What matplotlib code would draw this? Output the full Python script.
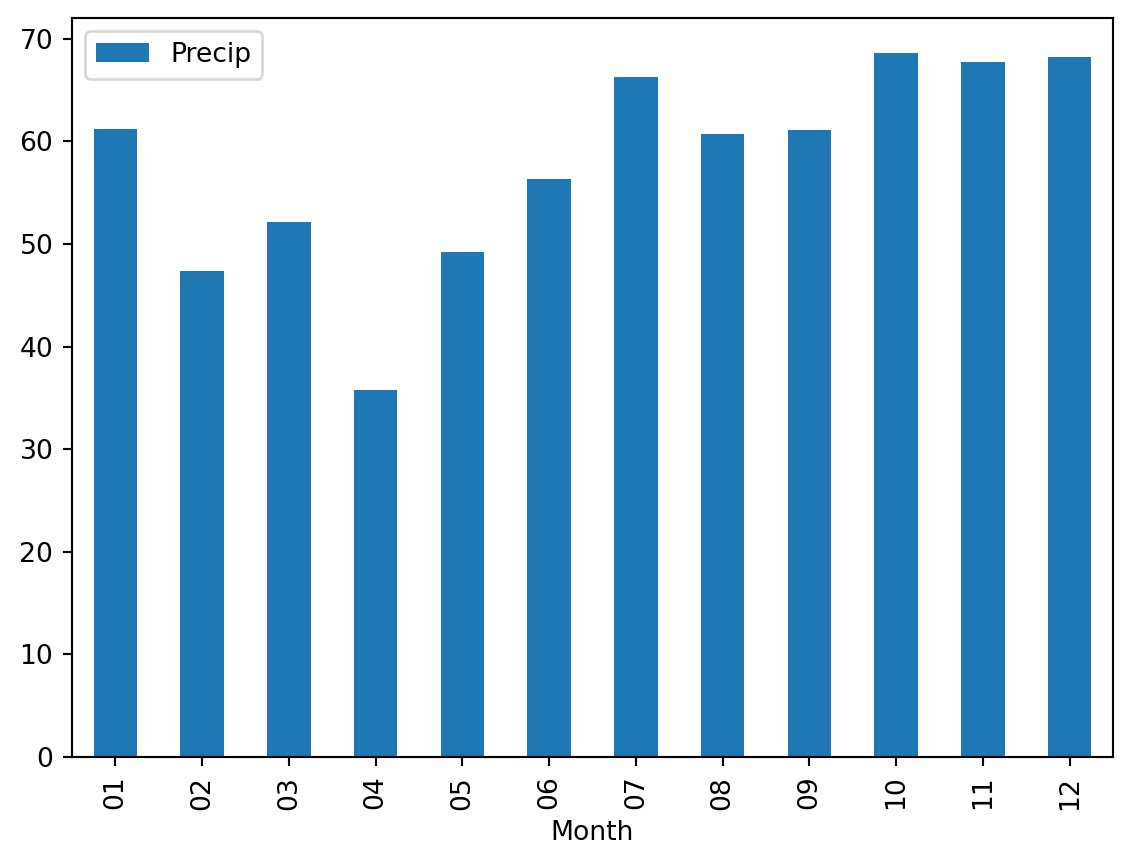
import matplotlib
matplotlib.use("Agg")
import matplotlib.pyplot as plt
import numpy as np

months = ["01", "02", "03", "04", "05", "06", "07", "08", "09", "10", "11", "12"]
precip = [61.2, 47.4, 52.1, 35.8, 49.2, 56.3, 66.3, 60.7, 61.1, 68.6, 67.7, 68.2]

DPI = 192
fig = plt.figure(figsize=(1132/DPI, 866/DPI), dpi=DPI)
W, H = 1132, 866
ax = fig.add_axes([72/W, 1-757/H, (1113-72)/W, (757-18)/H])

x = np.arange(len(months))
ax.bar(x, precip, width=0.5, color="#1f77b4", label="Precip")
ax.set_xlim(-0.5, len(months)-0.5)
ax.set_ylim(0, max(precip) * 1.05)
ax.set_xticks(x)
ax.set_xticklabels(months, rotation=90)
ax.set_xlabel("Month")
ax.legend(loc="upper left")

fig.savefig("out.png", dpi=DPI)
